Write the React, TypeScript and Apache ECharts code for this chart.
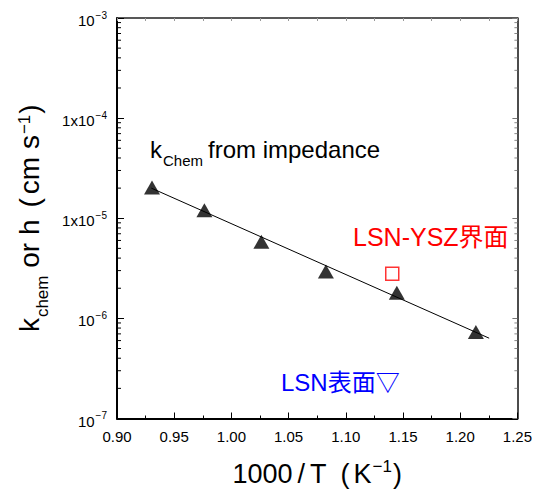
import React, { useEffect, useRef } from 'react';
import * as echarts from 'echarts';

// ---- data ----
const impedanceX = [0.9306, 0.9764, 1.0262, 1.0826, 1.1446, 1.2137];
const impedanceY = [2.03e-5, 1.2e-5, 5.82e-6, 2.94e-6, 1.8e-6, 7.32e-7];
const fitX = [0.93, 1.2253];
const fitY = [2.0e-5, 6.34e-7];
const interfaceX = [1.1406];
const interfaceY = [2.79e-6];

// ---- axis ticks ----
const X_MIN = 0.9;
const X_MAX = 1.25;
const X_INTERVAL = 0.05;
const Y_MIN = 1e-7;
const Y_MAX = 1e-3;
const yTickExp = [-7, -6, -5, -4, -3];
const yTickBase = ['10', '10', '1x10', '1x10', '10'];
const yTickSup = ['−7', '−6', '−5', '−4', '−3'];
const minorDecades = [-7, -6, -5, -4];
const minorMantissas = [2, 3, 4, 5, 6, 7, 8, 9];

const FONT = '"Liberation Sans", Arial, "Noto Sans CJK JP", sans-serif';

export default function App() {
  const ref = useRef<HTMLDivElement>(null);
  useEffect(() => {
    if (!ref.current) return;
    const chart = echarts.init(ref.current, undefined, { renderer: 'svg' });
    const minorVals: number[][] = [];
    minorDecades.forEach((d) =>
      minorMantissas.forEach((m) => minorVals.push([X_MIN, m * Math.pow(10, d)]))
    );
    const option: any = {
      animation: false,
      backgroundColor: '#fff',
      textStyle: { fontFamily: FONT },
      grid: { left: 117, right: 15, top: 18, bottom: 72, containLabel: false },
      xAxis: [
        {
          type: 'value',
          position: 'bottom',
          min: X_MIN,
          max: X_MAX,
          interval: X_INTERVAL,
          axisLine: { show: true, lineStyle: { color: '#000', width: 2 } },
          axisTick: { show: true, inside: true, length: 6, lineStyle: { color: '#000', width: 1 } },
          minorTick: { show: true, splitNumber: 2, length: 3, lineStyle: { color: '#000', width: 1 } },
          splitLine: { show: false },
          axisLabel: {
            formatter: (v: number) => v.toFixed(2),
            fontSize: 15,
            color: '#000',
            margin: 10,
            fontFamily: FONT,
            showMinLabel: true,
            showMaxLabel: true,
          },
          name: '{t|1000}{sl|/}{t|T}{p|(}{t|K}{sup|−1}{t|)}',
          nameLocation: 'middle',
          nameGap: 40,
          nameTextStyle: {
            fontFamily: FONT,
            color: '#000',
            rich: {
              t: { fontSize: 27, lineHeight: 30, fontFamily: FONT, color: '#000' },
              sl: { fontSize: 27, lineHeight: 30, fontFamily: FONT, color: '#000', padding: [0, 5, 0, 5] },
              p: { fontSize: 27, lineHeight: 30, fontFamily: FONT, color: '#000', padding: [0, 4, 0, 14] },
              sup: { fontSize: 17, lineHeight: 17, fontFamily: FONT, color: '#000', padding: [0, 1, 14, 1] },
            },
          },
        },
        {
          type: 'value',
          position: 'top',
          min: X_MIN,
          max: X_MAX,
          interval: 0.025,
          axisLine: { show: true, lineStyle: { color: '#222', width: 1.5 } },
          axisTick: { show: true, inside: true, length: 3, lineStyle: { color: '#999', width: 1 } },
          axisLabel: { show: false },
          splitLine: { show: false },
        },
      ],
      yAxis: [
        {
          type: 'log',
          logBase: 10,
          position: 'left',
          min: Y_MIN,
          max: Y_MAX,
          axisLine: { show: true, lineStyle: { color: '#000', width: 2 } },
          axisTick: { show: true, inside: true, length: 7, lineStyle: { color: '#000', width: 1 } },
          splitLine: { show: false },
          axisLabel: {
            margin: 10,
            fontFamily: FONT,
            color: '#000',
            formatter: (v: number) => {
              const e = Math.round(Math.log10(v));
              const i = yTickExp.indexOf(e);
              if (i < 0) return '';
              return `{b|${yTickBase[i]}}{s|${yTickSup[i]}}`;
            },
            rich: {
              b: { fontSize: 15, lineHeight: 20, fontFamily: FONT, color: '#000', padding: [5, 0, 0, 0] },
              s: { fontSize: 10, lineHeight: 10, fontFamily: FONT, color: '#000', padding: [0, 0, 6, 1] },
            },
          },
          name: '{m|k}{sub|chem}{m| or h}{p|(}{m|cm s}{sup|−1}{m|)}',
          nameLocation: 'middle',
          nameRotate: 90,
          nameGap: 70,
          nameTextStyle: {
            fontFamily: FONT,
            color: '#000',
            rich: {
              m: { fontSize: 28, lineHeight: 30, fontFamily: FONT, color: '#000' },
              p: { fontSize: 28, lineHeight: 30, fontFamily: FONT, color: '#000', padding: [0, 4, 0, 12] },
              sub: { fontSize: 17, lineHeight: 17, fontFamily: FONT, color: '#000', padding: [26, 0, 0, 1] },
              sup: { fontSize: 17, lineHeight: 17, fontFamily: FONT, color: '#000', padding: [0, 1, 11, 1] },
            },
          },
        },
        {
          type: 'log',
          logBase: 10,
          position: 'right',
          min: Y_MIN,
          max: Y_MAX,
          axisLine: { show: true, lineStyle: { color: '#111', width: 1.5 } },
          axisTick: { show: true, inside: true, length: 5, lineStyle: { color: '#777', width: 1 } },
          axisLabel: { show: false },
          splitLine: { show: false },
        },
      ],
      series: [
        {
          type: 'custom',
          xAxisIndex: 0,
          yAxisIndex: 0,
          silent: true,
          clip: false,
          encode: { x: 0, y: 1 },
          data: minorVals,
          renderItem: (params: any, api: any) => {
            const v = api.value(1);
            const l = api.coord([X_MIN, v]);
            const r = api.coord([X_MAX, v]);
            return {
              type: 'group',
              children: [
                { type: 'line', shape: { x1: l[0], y1: l[1], x2: l[0] + 4, y2: l[1] }, style: { stroke: '#000', lineWidth: 1 } },
                { type: 'line', shape: { x1: r[0], y1: r[1], x2: r[0] - 3, y2: r[1] }, style: { stroke: '#888', lineWidth: 1 } },
              ],
            };
          },
        },
        {
          type: 'line',
          xAxisIndex: 0,
          yAxisIndex: 0,
          data: fitX.map((x, i) => [x, fitY[i]]),
          symbol: 'none',
          lineStyle: { color: '#000', width: 1 },
          silent: true,
        },
        {
          type: 'scatter',
          xAxisIndex: 0,
          yAxisIndex: 0,
          data: impedanceX.map((x, i) => [x, impedanceY[i]]),
          symbol: 'triangle',
          symbolSize: [16, 14],
          itemStyle: { color: '#000' },
        },
        {
          type: 'scatter',
          xAxisIndex: 0,
          yAxisIndex: 0,
          data: interfaceX.map((x, i) => [x, interfaceY[i]]),
          symbol: 'rect',
          symbolSize: 13,
          itemStyle: { color: '#fff', borderColor: '#ff0000', borderWidth: 1.5 },
        },
      ],
      graphic: [
        { type: 'text', x: 150, y: 149, style: { text: 'k', font: `24px ${FONT}`, fill: '#000', verticalAlign: 'middle', align: 'left' } },
        { type: 'text', x: 163, y: 160, style: { text: 'Chem', font: `15px ${FONT}`, fill: '#000', verticalAlign: 'middle', align: 'left' } },
        { type: 'text', x: 208, y: 149, style: { text: 'from impedance', font: `24px ${FONT}`, fill: '#000', verticalAlign: 'middle', align: 'left' } },
        { type: 'text', x: 353, y: 237, style: { text: 'LSN-YSZ界面', font: `25px ${FONT}`, fill: '#ff0000', verticalAlign: 'middle', align: 'left' } },
        { type: 'text', x: 281, y: 382, style: { text: 'LSN表面▽', font: `24px ${FONT}`, fill: '#0000ff', verticalAlign: 'middle', align: 'left' } },
      ],
    };
    chart.setOption(option);
    return () => chart.dispose();
  }, []);
  return <div ref={ref} style={{ position: 'absolute', left: 0, top: 0, width: 535, height: 494 }} />;
}
